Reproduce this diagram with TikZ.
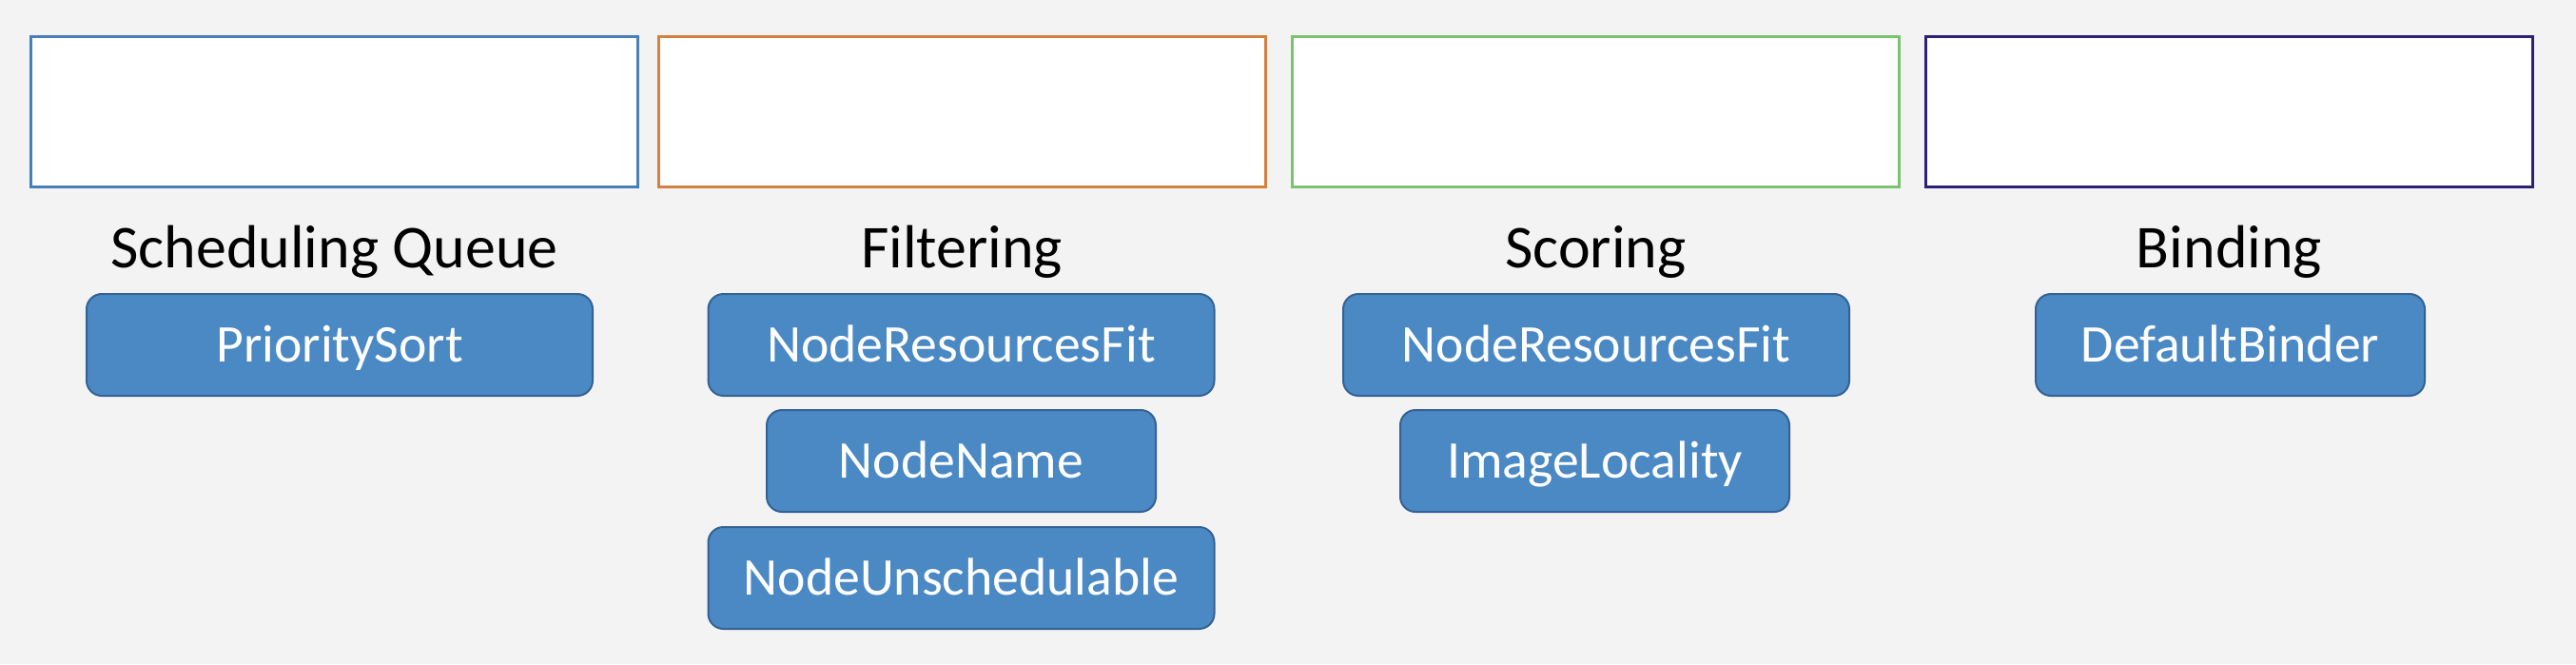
\documentclass[tikz,border=0pt]{standalone}
\usepackage{fontspec}
\setmainfont{Carlito}
\usepackage{xcolor}
\usepackage{tikz}

\definecolor{bggray}{RGB}{243,243,243}
\definecolor{queueblue}{RGB}{72,126,186}
\definecolor{filterorange}{RGB}{214,128,64}
\definecolor{scoregreen}{RGB}{122,196,112}
\definecolor{bindpurple}{RGB}{46,32,120}
\definecolor{plugfill}{RGB}{74,137,196}
\definecolor{plugline}{RGB}{52,98,148}

\begin{document}
\begin{tikzpicture}[
	stage/.style={draw, fill=white, line width=0.03cm, minimum width=6.38cm, minimum height=1.58cm, inner sep=0pt},
	title/.style={anchor=base, font=\fontsize{18.2}{22}\selectfont},
	plugin/.style={draw=plugline, fill=plugfill, text=white, rounded corners=0.16cm, line width=0.02cm,
		minimum width=5.32cm, minimum height=1.07cm, inner sep=0pt, text height=0.355cm, text depth=0cm,
		font=\fontsize{15.85}{19}\selectfont},
	short/.style={minimum width=4.09cm}]
		\fill[bggray] (0,0) rectangle (27.08,6.98);
		%
		\node[stage, draw=queueblue] (Q) at (3.515,5.805) {};
		\node[stage, draw=filterorange] (F) at (10.11,5.805) {};
		\node[stage, draw=scoregreen] (S) at (16.775,5.805) {};
		\node[stage, draw=bindpurple] (B) at (23.435,5.805) {};
		%
		\node[title] (QL) at (3.515,4.17) {Scheduling Queue};
		\node[title] (FL) at (10.11,4.17) {Filtering};
		\node[title] (SL) at (16.775,4.17) {Scoring};
		\node[title] (BL) at (23.435,4.17) {Binding};
		%
		\node[plugin] (Q1) at (3.57,3.355) {PrioritySort};
		\node[plugin] (F1) at (10.105,3.355) {NodeResourcesFit};
		\node[plugin, short] (F2) at (10.105,2.135) {NodeName};
		\node[plugin] (F3) at (10.105,0.905) {NodeUnschedulable};
		\node[plugin] (S1) at (16.78,3.355) {NodeResourcesFit};
		\node[plugin, short] (S2) at (16.765,2.135) {ImageLocality};
		\node[plugin, short] (B1) at (23.445,3.355) {DefaultBinder};
\end{tikzpicture}
\end{document}
